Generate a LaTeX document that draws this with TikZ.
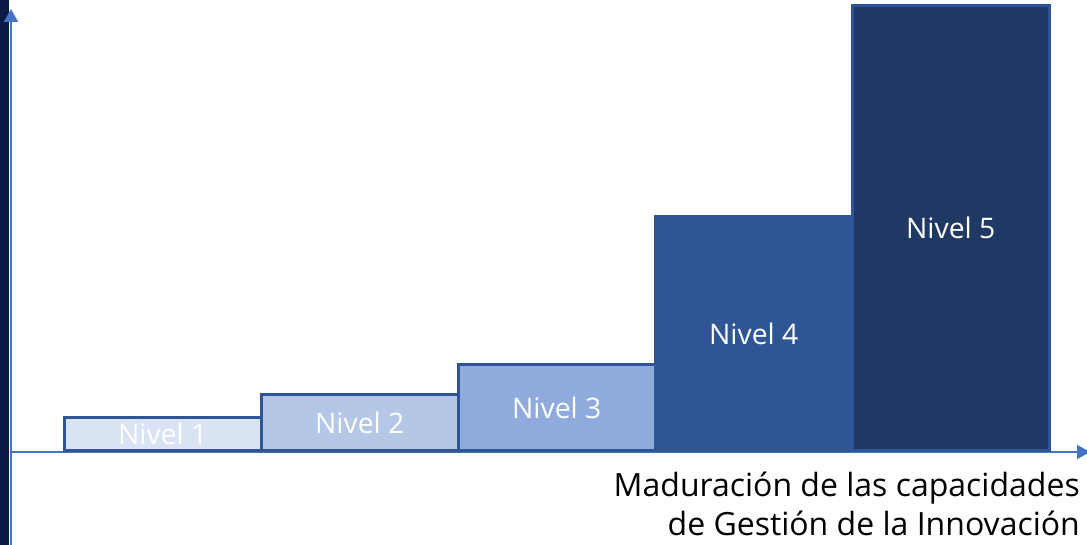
\documentclass[tikz,border=0pt]{standalone}
\usepackage{fontspec}
\setmainfont{Open Sans}
\usepackage{xcolor}
\usepackage{tikz}
\usetikzlibrary{arrows.meta}
\usetikzlibrary{positioning}

\definecolor{ejeazul}{HTML}{4472C4}
\definecolor{franja}{HTML}{0A1B45}
\definecolor{bordeazul}{HTML}{2F5597}
\definecolor{nivelA}{HTML}{DAE3F3}
\definecolor{nivelB}{HTML}{B4C7E7}
\definecolor{nivelC}{HTML}{8FAADC}
\definecolor{nivelD}{HTML}{2F5597}
\definecolor{nivelE}{HTML}{203864}

\begin{document}
\begin{tikzpicture}[x=1pt, y=1pt]
        \tikzset{escalon/.style={draw=bordeazul, line width=2.5pt, anchor=south west,
            minimum width=197pt, inner sep=0pt, text=white,
            font=\fontsize{28.3}{32}\selectfont},
          titulo/.style={anchor=base east, inner sep=0pt, font=\fontsize{32}{38}\selectfont},
          eje/.style={ejeazul, line width=2pt, -{Triangle[width=14pt,length=13pt]}}}
        \useasboundingbox (0,0) rectangle (1087,545);
        \fill[franja] (0,0) rectangle (9,545);
        % ejes
        \coordinate (O) at (11,93) ;
        \coordinate (ytop) at (11,536) ;
        \coordinate (xend) at (1090,93) ;
        \draw[eje, shorten <=-93pt] (O) -- (ytop) ;
        \draw[eje] (O) -- (xend) ;
        % escalones
        \foreach \n/\x/\h/\c in {1/63/33/nivelA, 2/260/56/nivelB, 3/457/86/nivelC,
            4/654/234/nivelD, 5/851/445/nivelE}
          \node[escalon, fill=\c, minimum height=\h pt] (nivel\n) at (\x,93) {Nivel \n} ;
        \node[titulo] (tituloA) at (1080,48) {Maduración de las capacidades} ;
        \node[titulo] (tituloB) at (1080,9) {de Gestión de la Innovación} ;
      \end{tikzpicture}
\end{document}
